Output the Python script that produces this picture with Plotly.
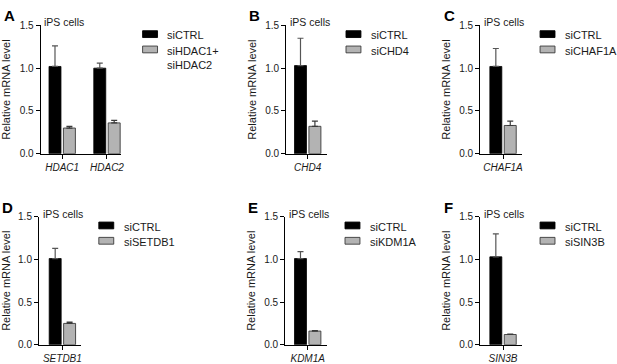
import plotly.graph_objects as go

W, H = 617, 364

# ---- data ----
panel_letters = ["A", "B", "C", "D", "E", "F"]
cell_label = "iPS cells"
ctrl_label = "siCTRL"
kd_labels = ["siHDAC1+<br>siHDAC2", "siCHD4", "siCHAF1A", "siSETDB1", "siKDM1A", "siSIN3B"]

genes_A = ["HDAC1", "HDAC2"]
ctrl_A = [1.02, 1.00]
ctrl_err_A = [0.24, 0.06]
kd_A = [0.30, 0.36]
kd_err_A = [0.02, 0.03]

genes_B = ["CHD4"]
ctrl_B = [1.03]
ctrl_err_B = [0.32]
kd_B = [0.32]
kd_err_B = [0.06]

genes_C = ["CHAF1A"]
ctrl_C = [1.02]
ctrl_err_C = [0.21]
kd_C = [0.33]
kd_err_C = [0.05]

genes_D = ["SETDB1"]
ctrl_D = [1.01]
ctrl_err_D = [0.12]
kd_D = [0.25]
kd_err_D = [0.015]

genes_E = ["KDM1A"]
ctrl_E = [1.01]
ctrl_err_E = [0.08]
kd_E = [0.16]
kd_err_E = [0.005]

genes_F = ["SIN3B"]
ctrl_F = [1.03]
ctrl_err_F = [0.27]
kd_F = [0.12]
kd_err_F = [0.005]

y_ticks = [0.0, 0.5, 1.0, 1.5]

panels = [
    (genes_A, ctrl_A, ctrl_err_A, kd_A, kd_err_A),
    (genes_B, ctrl_B, ctrl_err_B, kd_B, kd_err_B),
    (genes_C, ctrl_C, ctrl_err_C, kd_C, kd_err_C),
    (genes_D, ctrl_D, ctrl_err_D, kd_D, kd_err_D),
    (genes_E, ctrl_E, ctrl_err_E, kd_E, kd_err_E),
    (genes_F, ctrl_F, ctrl_err_F, kd_F, kd_err_F),
]

# ---- layout geometry (pixels): axis left, axis right, plot top, plot bottom, first category centre
geom = [
    (41.0, 122.0, 20.0, 152.3, 62.5),
    (287.7, 329.0, 20.0, 152.3, 309.2),
    (482.7, 525.0, 20.0, 152.3, 505.5),
    (39.3, 81.0, 217.3, 349.3, 62.7),
    (286.7, 329.0, 217.3, 349.3, 309.2),
    (482.7, 525.0, 217.3, 349.3, 505.5),
]
PX_PER_CAT = 45.0
FONT = "Arial, Liberation Sans, sans-serif"
TXT = "#1a1a1a"
GRAY = "#b3b3b3"
EDGE = "#3a3a3a"
ERR = "#555555"


def fx(px):
    return px / W


def fy(py):
    return 1 - py / H


fig = go.Figure()
shapes = []
annotations = []

for i, ((genes, ctrl, cerr, kd, kerr), (x0, x1, yt, yb, c)) in enumerate(zip(panels, geom)):
    n = "" if i == 0 else str(i + 1)
    xr, yr = "x" + n, "y" + n
    fig.add_trace(go.Bar(
        x=genes, y=ctrl, xaxis=xr, yaxis=yr, offsetgroup="ctrl",
        marker=dict(color="black", line=dict(color="black", width=0.8)),
        error_y=dict(type="data", symmetric=False, array=cerr, arrayminus=[0] * len(cerr),
                     color=ERR, thickness=1.2, width=3),
        showlegend=False, name=ctrl_label))
    fig.add_trace(go.Bar(
        x=genes, y=kd, xaxis=xr, yaxis=yr, offsetgroup="kd",
        marker=dict(color=GRAY, line=dict(color=EDGE, width=0.9)),
        error_y=dict(type="data", symmetric=False, array=kerr, arrayminus=[0] * len(kerr),
                     color=EDGE, thickness=1.2, width=3),
        showlegend=False, name=kd_labels[i].replace("<br>", " ")))

    fig.layout["xaxis" + n] = dict(
        domain=[fx(x0), fx(x1)], anchor=yr, type="category",
        range=[(x0 - c) / PX_PER_CAT, (x1 - c) / PX_PER_CAT],
        showline=True, linecolor="black", linewidth=1.3, mirror=False,
        ticks="outside", ticklen=4, tickwidth=1.3, tickcolor="black",
        showgrid=False, zeroline=False, fixedrange=True,
        tickfont=dict(family=FONT, size=10, color=TXT, style="italic"))
    fig.layout["yaxis" + n] = dict(
        domain=[fy(yb), fy(yt)], anchor=xr, range=[0, 1.5],
        tickvals=y_ticks, tickformat=".1f",
        showline=True, linecolor="black", linewidth=1.3,
        ticks="outside", ticklen=4, tickwidth=1.3, tickcolor="black",
        showgrid=False, zeroline=False, fixedrange=True,
        tickfont=dict(family=FONT, size=10, color=TXT),
        title=dict(text="Relative mRNA level", standoff=6,
                   font=dict(family=FONT, size=11, color=TXT)))

    # panel letter
    annotations.append(dict(
        text="<b>%s</b>" % panel_letters[i], xref="paper", yref="paper",
        x=fx(x0 - 39), y=fy(yt - 10), xanchor="left", yanchor="middle",
        showarrow=False, font=dict(family=FONT, size=15, color="black")))
    # cell label
    annotations.append(dict(
        text=cell_label, xref="paper", yref="paper",
        x=fx(x0 + 1.5), y=fy(yt - 3), xanchor="left", yanchor="middle",
        showarrow=False, font=dict(family=FONT, size=10.5, color=TXT)))

    # legend
    lx = x0 + 60 if i != 0 else 143.3
    for j, (lab, fill, edge) in enumerate([(ctrl_label, "black", "black"),
                                           (kd_labels[i], GRAY, EDGE)]):
        cy = yt + 9 + j * 15.8
        shapes.append(dict(type="rect", xref="paper", yref="paper",
                           x0=fx(lx), x1=fx(lx + 15), y0=fy(cy + 3.5), y1=fy(cy - 3.5),
                           fillcolor=fill, line=dict(color=edge, width=0.9)))
        annotations.append(dict(
            text=lab, xref="paper", yref="paper",
            x=fx(lx + 23), y=fy(cy - 7), xanchor="left", yanchor="top",
            align="left", showarrow=False,
            font=dict(family=FONT, size=11, color=TXT)))

fig.update_layout(
    width=W, height=H, margin=dict(l=0, r=0, t=0, b=0),
    paper_bgcolor="white", plot_bgcolor="white",
    barmode="group", bargap=0.356, bargroupgap=0.17,
    shapes=shapes, annotations=annotations, showlegend=False)

fig.write_html("out.html", config={"displayModeBar": False},
               post_script="document.body.style.margin='0px';document.body.style.overflow='hidden';")
